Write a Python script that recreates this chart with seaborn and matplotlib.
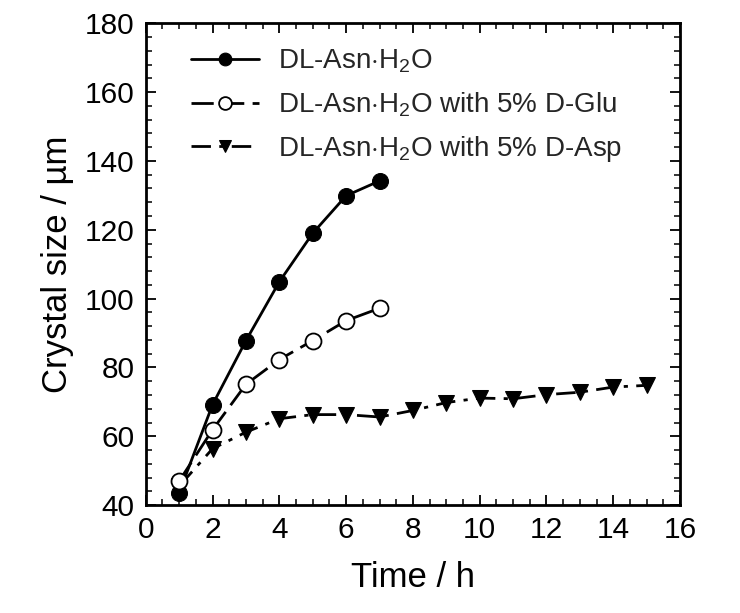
import matplotlib
matplotlib.use("Agg")
import matplotlib.pyplot as plt
import seaborn as sns
import pandas as pd
from matplotlib.ticker import MultipleLocator

sns.set_theme(style="ticks")
plt.rcParams['font.family'] = ['Liberation Sans', 'DejaVu Sans']
plt.rcParams['mathtext.fontset'] = 'custom'
plt.rcParams['mathtext.rm'] = 'Liberation Sans'
plt.rcParams['mathtext.it'] = 'Liberation Sans'

time_a = [1, 2, 3, 4, 5, 6, 7]
size_a = [43.6, 69.2, 87.8, 104.9, 119.0, 129.9, 134.2]

time_b = [1, 2, 3, 4, 5, 6, 7]
size_b = [47.0, 61.9, 75.1, 82.3, 87.8, 93.6, 97.2]

time_c = [1, 2, 3, 4, 5, 6, 7, 8, 9, 10, 11, 12, 13, 14, 15]
size_c = [45.5, 56.4, 61.2, 65.1, 66.3, 66.3, 65.6, 67.5, 69.8, 71.1, 70.9, 72.1, 72.8, 74.3, 74.8]

labels = ["DL-Asn$\\cdot$H$_2$O",
          "DL-Asn$\\cdot$H$_2$O with 5% D-Glu",
          "DL-Asn$\\cdot$H$_2$O with 5% D-Asp"]

fig = plt.figure(figsize=(7.4, 6.13), dpi=100)
ax = fig.add_axes([0.197, 0.176, 0.722, 0.786])

df_a = pd.DataFrame({"t": time_a, "s": size_a})
df_b = pd.DataFrame({"t": time_b, "s": size_b})
df_c = pd.DataFrame({"t": time_c, "s": size_c})

sns.lineplot(data=df_a, x="t", y="s", ax=ax, color="black", lw=2,
             marker="o", markersize=11.5, markerfacecolor="black",
             markeredgecolor="black", label=labels[0], zorder=3)
sns.lineplot(data=df_b, x="t", y="s", ax=ax, color="black", lw=2,
             linestyle=(0, (8, 3)),
             marker="o", markersize=11.5, markerfacecolor="white",
             markeredgecolor="black", markeredgewidth=1.3, label=labels[1], zorder=4)
sns.lineplot(data=df_c, x="t", y="s", ax=ax, color="black", lw=2,
             linestyle=(0, (7, 3, 1.5, 3)),
             marker="v", markersize=11.5, markerfacecolor="black",
             markeredgecolor="black", label=labels[2], zorder=2)

ax.set_xlim(0, 16)
ax.set_ylim(40, 180)
ax.xaxis.set_major_locator(MultipleLocator(2))
ax.xaxis.set_minor_locator(MultipleLocator(0.5))
ax.yaxis.set_major_locator(MultipleLocator(20))
ax.yaxis.set_minor_locator(MultipleLocator(4))
ax.tick_params(which="both", direction="in", top=True, right=True, color="black",
               labelsize=21.5, labelcolor="black")
ax.tick_params(which="major", length=7, width=1.3, pad=8)
ax.tick_params(which="minor", length=4, width=1.1)
for sp in ax.spines.values():
    sp.set_linewidth(2)
    sp.set_color("black")

ax.set_xlabel("Time / h", fontsize=25, color="black", labelpad=12)
ax.set_ylabel("Crystal size / µm", fontsize=25, color="black", labelpad=8)

ax.legend(loc="upper left", frameon=False, fontsize=20, handlelength=2.45,
          labelspacing=0.55, borderaxespad=0.3, handletextpad=0.7,
          markerscale=0.8, bbox_to_anchor=(0.048, 0.99))

fig.savefig("out.png", dpi=100)
